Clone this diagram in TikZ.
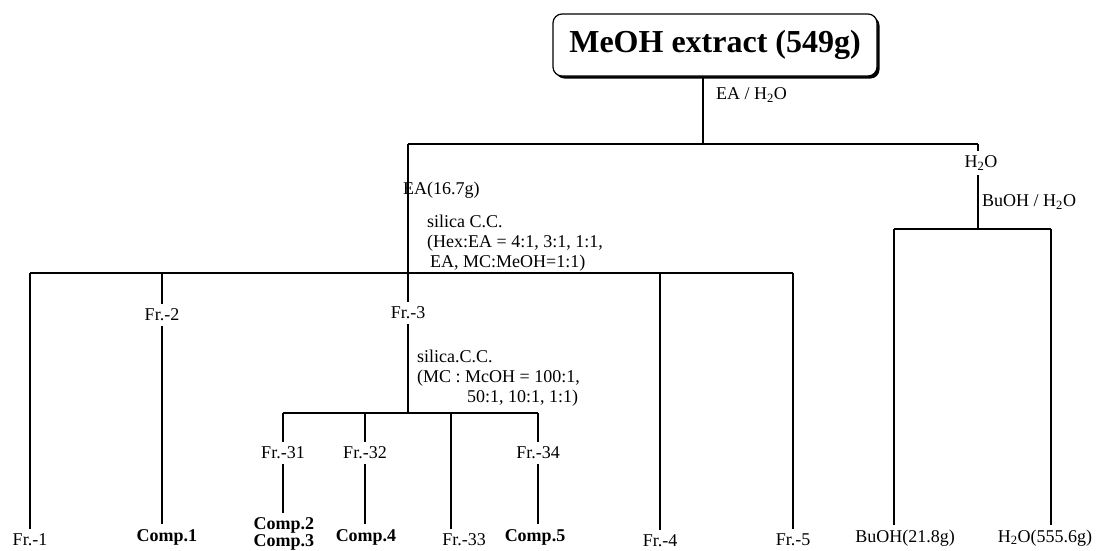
\documentclass[tikz,border=0pt]{standalone}
\usepackage{fontspec}
\setmainfont{Liberation Serif}
\usepackage{tikz}
\usetikzlibrary{shadows}

\begin{document}
\begin{tikzpicture}[x=1pt, y=-1pt, font=\fontsize{18}{20}\selectfont]
    % Styles
    \tikzstyle{extract} = [draw, rectangle, rounded corners=9pt, line width=1.2pt, fill=white, minimum width=324pt, minimum height=62pt, font=\fontsize{32}{36}\selectfont\bfseries, drop shadow={shadow xshift=2.5pt, shadow yshift=-2.5pt, fill=black, opacity=1}]
    \tikzstyle{frac} = [inner sep=5pt]
    \tikzstyle{comp} = [inner sep=5pt, align=center, font=\fontsize{18}{15}\selectfont\bfseries]
    \tikzstyle{cond} = [anchor=west, inner sep=0pt, align=left]
    \tikzstyle{line} = [line width=1.2pt]

    \clip (0,0) rectangle (1104,550);

    % Nodes
    \node (meoh) [extract] at (715,45) {MeOH extract (549g)};
    \node (eah2o) [cond] at (716,95) {EA / H\textsubscript{2}O};
    \node (ea) [cond] at (403,190) {EA(16.7g)};
    \node (h2o) [frac] at (981,163) {H\textsubscript{2}O};
    \node (buh2o) [cond] at (982,202) {BuOH / H\textsubscript{2}O};
    \node (buoh) [frac] at (905,538) {BuOH(21.8g)};
    \node (wat) [frac] at (1045,538) {H\textsubscript{2}O(555.6g)};

    \node (silica1) [cond] at (427,243) {silica C.C.\\(Hex:EA = 4:1, 3:1, 1:1,\\\hspace{3pt}EA, MC:MeOH=1:1)};
    \node (fr1) [frac] at (30,540) {Fr.-1};
    \node (fr2) [frac] at (162,315) {Fr.-2};
    \node (comp1) [comp] at (167,537) {Comp.1};
    \node (fr3) [frac] at (408,313) {Fr.-3};
    \node (fr4) [frac] at (660,541) {Fr.-4};
    \node (fr5) [frac] at (793,540) {Fr.-5};

    \node (silica2) [cond] at (417,378) {silica.C.C.\\(MC : McOH = 100:1,\\\hspace{50pt}50:1, 10:1, 1:1)};
    \node (fr31) [frac] at (283,453) {Fr.-31};
    \node (comp23) [comp] at (284,534) {Comp.2\\Comp.3};
    \node (fr32) [frac] at (365,453) {Fr.-32};
    \node (comp4) [comp] at (366,537) {Comp.4};
    \node (fr33) [frac] at (464,540) {Fr.-33};
    \node (fr34) [frac] at (538,453) {Fr.-34};
    \node (comp5) [comp] at (535,537) {Comp.5};

    % Junctions
    \coordinate (jtop) at (703,144);
    \coordinate (jea) at (408,144);
    \coordinate (jh) at (978,144);
    \coordinate (jb1) at (894,229);
    \coordinate (jb2) at (1051,229);
    \coordinate (js1) at (30,273);
    \coordinate (js5) at (793,273);
    \coordinate (jc) at (408,413);
    \coordinate (jc1) at (283,413);
    \coordinate (jc3) at (451,413);
    \coordinate (jc4) at (538,413);

    % Connections
    \draw [line] (meoh.south -| jtop) -- (jtop);
    \draw [line] (jea) -- (jh);
    \draw [line] (jea) -- (fr3);
    \draw [line] (jh) -- (jh |- h2o.north);
    \draw [line] (jh |- h2o.south) -- (jh |- jb1);
    \draw [line] (jb1) -- (jb2);
    \draw [line] (jb1) -- (jb1 |- buoh.north);
    \draw [line] (jb2) -- (jb2 |- wat.north);

    \draw [line] (js1) -- (js5);
    \draw [line] (js1) -- (fr1);
    \draw [line] (fr2 |- js1) -- (fr2);
    \draw [line] (fr2) -- (fr2.south |- comp1.north);
    \draw [line] (fr4 |- js1) -- (fr4);
    \draw [line] (js5) -- (fr5);

    \draw [line] (fr3) -- (jc);
    \draw [line] (jc1) -- (jc4);
    \draw [line] (jc1) -- (fr31);
    \draw [line] (fr31) -- (fr31.south |- comp23.north);
    \draw [line] (fr32 |- jc1) -- (fr32);
    \draw [line] (fr32) -- (fr32.south |- comp4.north);
    \draw [line] (jc3) -- (jc3 |- fr33.north);
    \draw [line] (jc4) -- (fr34);
    \draw [line] (fr34) -- (fr34.south |- comp5.north);
\end{tikzpicture}
\end{document}
